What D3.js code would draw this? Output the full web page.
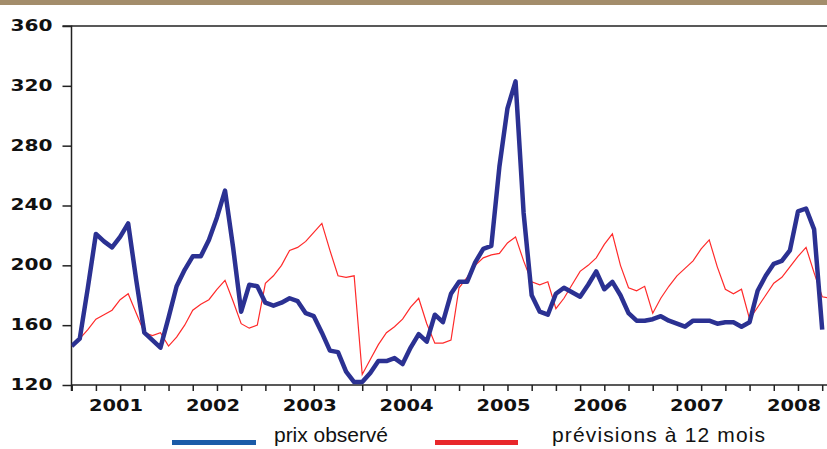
<!DOCTYPE html>
<html><head><meta charset="utf-8">
<script src="https://cdn.jsdelivr.net/npm/d3@7"></script>
<style>body{margin:0;background:#fff}svg{display:block}</style>
</head><body><svg id="c" width="827" height="449"></svg>
<script>
const startYear = 2001;
const yearLabels = ["2001","2002","2003","2004","2005","2006","2007","2008"];
const yTicks = [120,160,200,240,280,320,360];
const seriesNames = ["prix observé","prévisions à 12 mois"];
// monthly values from Jan 2001
const observed = [146,151,185,221,216,212,219,228,190,155,150,145,
  165,186,197,206,206,217,232,250,212,169,187,186,
  175,173,175,178,176,168,166,155,143,142,129,122,
  122,128,136,136,138,134,145,154,149,167,162,181,
  189,189,202,211,213,266,305,323,235,180,169,167,
  181,185,182,179,187,196,184,189,180,168,163,163,
  164,166,163,161,159,163,163,163,161,162,162,159,
  162,183,193,201,203,210,236,238,224,157];
const forecast = [146,151,157,164,167,170,177,181,168,155,153,155,
  146,152,160,170,174,177,184,190,176,161,158,160,
  188,193,200,210,212,216,222,228,210,193,192,193,
  127,137,147,155,159,164,172,178,161,148,148,150,
  185,192,200,205,207,208,215,219,203,189,187,189,
  171,178,187,196,200,205,214,221,200,185,183,186,
  168,178,186,193,198,203,211,217,199,184,181,184,
  164,172,180,188,192,199,206,212,195,179,178];

(function(){
const svg = d3.select("#c");
const pLeft = 71.5, pTop = 26, pBottom = 385, pRight = 827;
const x = d3.scaleLinear().domain([0, 93]).range([71.7, 822.2]);
const y = d3.scaleLinear().domain([120, 360]).range([pBottom, pTop]);

svg.append("rect").attr("x",0).attr("y",0).attr("width",827).attr("height",5).attr("fill","#a38d6b");

svg.append("defs").append("clipPath").attr("id","clip")
  .append("rect").attr("x",pLeft).attr("y",0).attr("width",pRight-pLeft).attr("height",pBottom+2);

svg.append("line").attr("x1",pLeft).attr("x2",pRight).attr("y1",pTop).attr("y2",pTop).attr("stroke","#222").attr("stroke-width",1.5);

const yAxis = d3.axisLeft(y).tickValues(yTicks).tickSize(9).tickPadding(10).tickFormat(d3.format("d"));
const yg = svg.append("g").attr("transform",`translate(${pLeft},0)`).call(yAxis);
yg.select(".domain").attr("stroke","#222").attr("stroke-width",1.5).attr("d",`M-9,${pTop}H0V${pBottom+6}`);
yg.selectAll(".tick line").attr("stroke","#222").attr("stroke-width",1.5);
yg.selectAll(".tick text").attr("font-family","DejaVu Sans").attr("font-weight","bold")
  .attr("font-size",16).attr("fill","#111").attr("dy","0.28em")
  .attr("textLength",42).attr("lengthAdjust","spacingAndGlyphs");

const monthTicks = d3.range(0, 94, 3);
const xAxis = d3.axisBottom(x).tickValues(monthTicks).tickSize(6).tickFormat("");
const xg = svg.append("g").attr("transform",`translate(0,${pBottom})`).call(xAxis);
xg.select(".domain").attr("stroke","#222").attr("stroke-width",1.5).attr("d",`M${pLeft},0H${pRight}`);
xg.selectAll(".tick line").attr("stroke","#222").attr("stroke-width",1.5);
svg.append("g").selectAll("text").data(yearLabels).join("text")
  .attr("x",(d,i)=>x(i*12+5.5)).attr("y",410.5)
  .attr("text-anchor","middle").attr("font-family","DejaVu Sans").attr("font-weight","bold")
  .attr("font-size",16).attr("fill","#111")
  .attr("textLength",54).attr("lengthAdjust","spacingAndGlyphs")
  .text(d=>d);

const line = d3.line().x((d,i)=>x(i)).y(d=>y(d));
const g = svg.append("g").attr("clip-path","url(#clip)");
g.append("path").datum(forecast).attr("d",line).attr("fill","none").attr("stroke","#ff2a2a").attr("stroke-width",1.2);
g.append("path").datum(observed).attr("d",line).attr("fill","none").attr("stroke","#2b3192").attr("stroke-width",4.5).attr("stroke-linejoin","round");

const legend = [
  {name: seriesNames[0], color:"#1b5ba8", x1:172, x2:256, tx:274, tl:114},
  {name: seriesNames[1], color:"#e8262a", x1:435, x2:518, tx:552, tl:213}
];
const lg = svg.append("g");
lg.selectAll("line").data(legend).join("line")
  .attr("x1",d=>d.x1).attr("x2",d=>d.x2).attr("y1",442.5).attr("y2",442.5)
  .attr("stroke",d=>d.color).attr("stroke-width",5);
lg.selectAll("text").data(legend).join("text")
  .attr("x",d=>d.tx).attr("y",442).attr("font-family","Liberation Sans").attr("font-size",21)
  .attr("fill","#111").attr("textLength",d=>d.tl).attr("lengthAdjust","spacing")
  .text(d=>d.name);
})();
</script></body></html>
